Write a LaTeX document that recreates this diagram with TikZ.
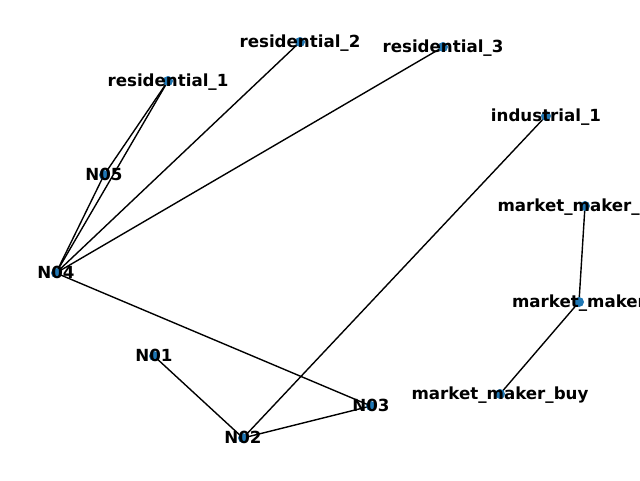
\documentclass[tikz,border=0pt]{standalone}
\usepackage{fontspec}
\setmainfont{DejaVu Sans}
\usetikzlibrary{backgrounds}
\definecolor{nodeblue}{HTML}{1F77B4}
\tikzset{
  dot/.style={circle, fill=nodeblue, inner sep=0pt, minimum size=10pt},
  lbl/.style={inner sep=0pt, text height=13.9pt, text depth=3.9pt,
    font=\fontsize{16.67}{20}\selectfont\bfseries},
  edge/.style={draw=black, line width=1.39pt}
}
\begin{document}
\begin{tikzpicture}[x=1pt, y=-1pt]
\useasboundingbox (0,0) rectangle (640,480);
\clip (0,0) rectangle (640,480);
% nodes
\node[dot] (r1) at (168,81) {};
\node[dot] (r2) at (300,42) {};
\node[dot] (r3) at (443,47) {};
\node[dot] (ind) at (546,116) {};
\node[dot] (n05) at (104,175) {};
\node[dot] (n04) at (56,273) {};
\node[dot] (n01) at (154,356) {};
\node[dot] (n02) at (243,438) {};
\node[dot] (n03) at (371,406) {};
\node[dot] (mms) at (585,206) {};
\node[dot] (mm) at (579,302) {};
\node[dot] (mmb) at (500,394) {};
% edges
\begin{scope}[on background layer]
\draw[edge] (r1.center) -- (n05.center);
\draw[edge] (r1.center) -- (n04.center);
\draw[edge] (n05.center) -- (n04.center);
\draw[edge] (r2.center) -- (n04.center);
\draw[edge] (r3.center) -- (n04.center);
\draw[edge] (n04.center) -- (n03.center);
\draw[edge] (n01.center) -- (n02.center);
\draw[edge] (n02.center) -- (n03.center);
\draw[edge] (n02.center) -- (ind.center);
\draw[edge] (mms.center) -- (mm.center);
\draw[edge] (mm.center) -- (mmb.center);
\end{scope}
% labels
\node[lbl] at (r1) {residential\_1};
\node[lbl] at (r2) {residential\_2};
\node[lbl] at (r3) {residential\_3};
\node[lbl] at (ind) {industrial\_1};
\node[lbl] at (n05) {N05};
\node[lbl] at (n04) {N04};
\node[lbl] at (n01) {N01};
\node[lbl] at (n02) {N02};
\node[lbl] at (n03) {N03};
\node[lbl] at (mms) {market\_maker\_sell};
\node[lbl] at (mm) {market\_maker};
\node[lbl] at (mmb) {market\_maker\_buy};
\end{tikzpicture}
\end{document}
